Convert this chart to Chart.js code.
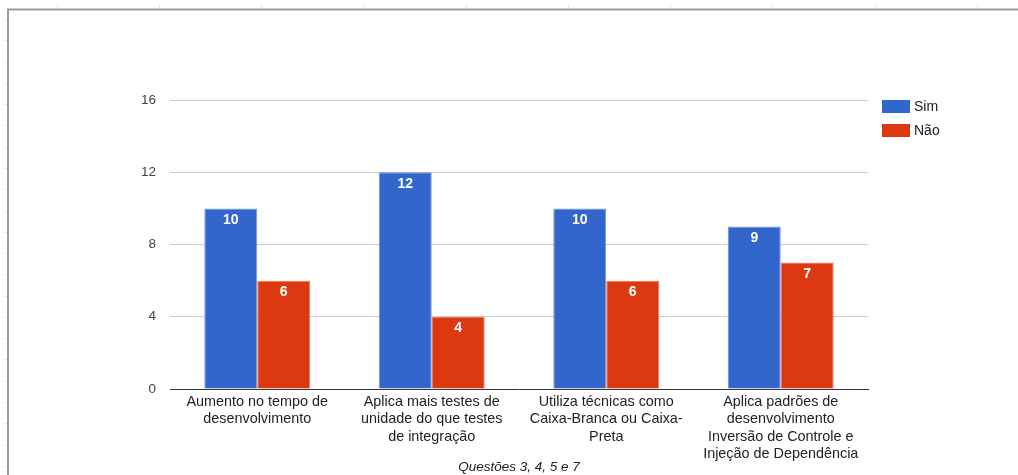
<!DOCTYPE html>
<html>
<head>
<meta charset="utf-8">
<script src="https://cdn.jsdelivr.net/npm/chart.js"></script>
<style>
html,body{margin:0;padding:0;background:#fff;}
#wrap{width:1018px;height:475px;position:relative;}
</style>
</head>
<body>
<div id="wrap"><canvas id="chart"></canvas></div>
<script>
const questions=[
  ['Aumento no tempo de','desenvolvimento'],
  ['Aplica mais testes de','unidade do que testes','de integração'],
  ['Utiliza técnicas como','Caixa-Branca ou Caixa-','Preta'],
  ['Aplica padrões de','desenvolvimento','Inversão de Controle e','Injeção de Dependência']
];
const simValues=[10,12,10,9];
const naoValues=[6,4,6,7];
const yTicks=[0,4,8,12,16];
const axisTitle='Questões 3, 4, 5 e 7';

const FONT='Arial, "Liberation Sans", sans-serif';

// sheet frame behind the chart: grey border plus the little column/row marks
const framePlugin={
  id:'frame',
  beforeDraw(chart){
    const ctx=chart.ctx;
    ctx.save();
    ctx.fillStyle='#fff';
    ctx.fillRect(0,0,chart.width,chart.height);
    ctx.strokeStyle='#e2e2e2';
    ctx.lineWidth=1;
    for(let x=57;x<chart.width;x+=102.2){
      ctx.beginPath();ctx.moveTo(Math.round(x)+0.5,5);ctx.lineTo(Math.round(x)+0.5,9);ctx.stroke();
    }
    for(let y=19;y<chart.height;y+=21.28){
      ctx.beginPath();ctx.moveTo(5,Math.round(y)+0.5);ctx.lineTo(8,Math.round(y)+0.5);ctx.stroke();
    }
    ctx.strokeStyle='#9a9a9a';
    ctx.lineWidth=2;
    ctx.beginPath();
    ctx.moveTo(8,chart.height);
    ctx.lineTo(8,9.5);
    ctx.lineTo(chart.width,9.5);
    ctx.stroke();
    ctx.restore();
  }
};

// white value labels at the top of each bar
const valueLabels={
  id:'valueLabels',
  afterDatasetsDraw(chart){
    const ctx=chart.ctx;
    ctx.save();
    ctx.fillStyle='#fff';
    ctx.font='bold 14px '+FONT;
    ctx.textAlign='center';
    ctx.textBaseline='middle';
    chart.data.datasets.forEach((ds,i)=>{
      chart.getDatasetMeta(i).data.forEach((bar,j)=>{
        ctx.fillText(String(ds.data[j]),bar.x,bar.y+11.5);
      });
    });
    ctx.restore();
  }
};

// legend on the right, aligned with the top of the plot
const sideLegend={
  id:'sideLegend',
  afterDraw(chart){
    const ctx=chart.ctx;
    const a=chart.chartArea;
    ctx.save();
    ctx.font='14px '+FONT;
    ctx.textBaseline='middle';
    chart.data.datasets.forEach((ds,i)=>{
      const y=a.top+i*24;
      ctx.fillStyle=ds.backgroundColor;
      ctx.fillRect(a.right+14,y,28,13);
      ctx.fillStyle='#222';
      ctx.fillText(ds.label,a.right+46,y+7);
    });
    ctx.restore();
  }
};

new Chart(document.getElementById('chart'),{
  type:'bar',
  data:{
    labels:questions,
    datasets:[
      {label:'Sim',data:simValues,backgroundColor:'#3366cc',borderColor:'#7495dc',borderWidth:1,borderSkipped:'bottom'},
      {label:'Não',data:naoValues,backgroundColor:'#dc3912',borderColor:'#e77558',borderWidth:1,borderSkipped:'bottom'}
    ]
  },
  options:{
    responsive:true,
    maintainAspectRatio:false,
    animation:false,
    events:[],
    layout:{padding:{top:100,right:150,left:0,bottom:0}},
    categoryPercentage:0.607,
    barPercentage:1,
    plugins:{legend:{display:false},tooltip:{enabled:false}},
    scales:{
      x:{
        grid:{display:false,drawTicks:false},
        border:{color:'#333',width:1},
        ticks:{color:'#222',font:{family:FONT,size:14.4,lineHeight:1.21},padding:4,maxRotation:0,autoSkip:false},
        title:{display:true,text:axisTitle,color:'#222',font:{family:FONT,size:13.5,style:'italic'},padding:{top:0,bottom:0}},
        afterFit(scale){scale.height=86;}
      },
      y:{
        min:0,max:16,
        afterBuildTicks(scale){scale.ticks=yTicks.map(v=>({value:v}));},
        grid:{color:ctx=>ctx.tick.value===0?'rgba(0,0,0,0)':'#cccccc',drawTicks:false},
        border:{display:false},
        ticks:{color:'#444',font:{family:FONT,size:13.5},padding:14},
        afterFit(scale){scale.width=170;}
      }
    }
  },
  plugins:[framePlugin,valueLabels,sideLegend]
});
</script>
</body>
</html>
